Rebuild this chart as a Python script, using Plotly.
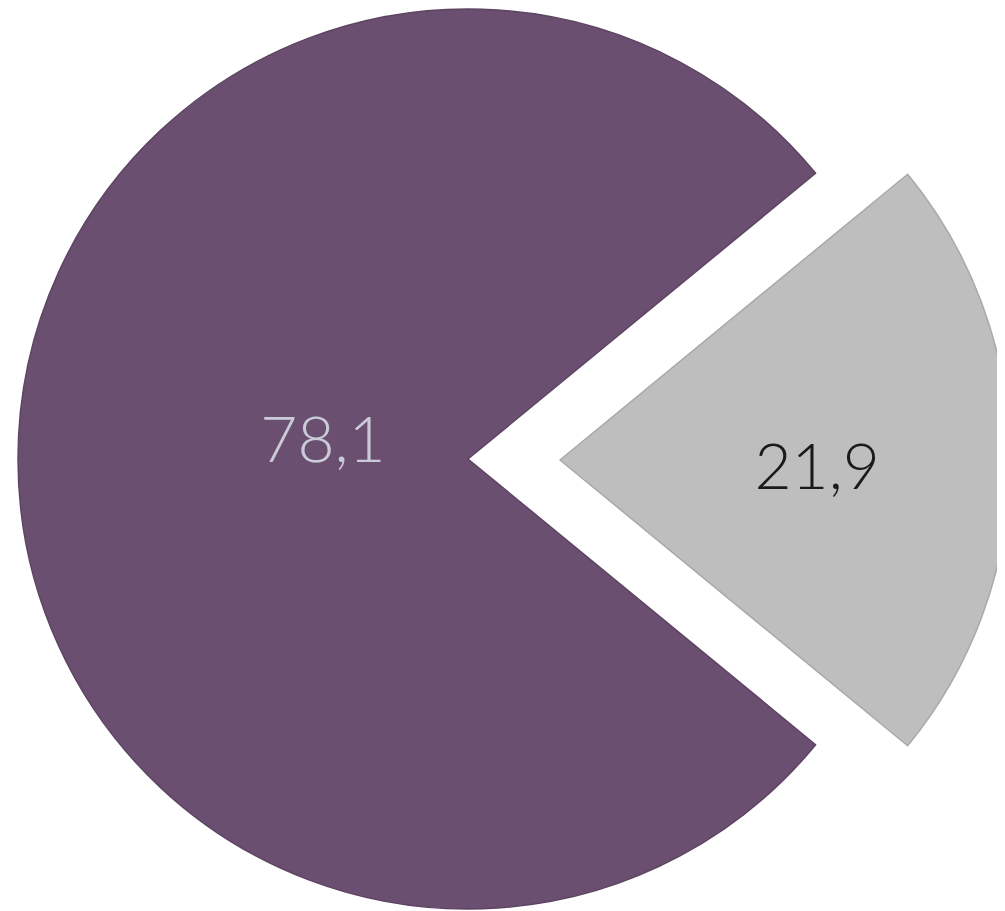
import plotly.graph_objects as go

labels = ["A", "B"]
values = [78.1, 21.9]
text_labels = ["78,1", "21,9"]
colors = ["#6B4F70", "#BEBEBE"]
text_colors = ["#C9CBD9", "#1A1A1A"]

W, H = 1005, 911
OFF = 8  # default body margin of the html page


def dom(cx, cy, r):
    """domain for a pie whose circle is at screen centre (cx, cy) with radius r"""
    x0 = (cx - OFF - r) / W
    x1 = (cx - OFF + r) / W
    top = cy - OFF - r
    bot = cy - OFF + r
    return dict(x=[max(0, x0), min(1, x1)], y=[max(0, (H - bot) / H), min(1, (H - top) / H)])


FONT = dict(family="Lato", size=64, weight=300)
CLEAR = "rgba(0,0,0,0)"

fig = go.Figure()

# main (purple) slice
fig.add_trace(go.Pie(
    labels=labels, values=values, sort=False, direction="clockwise",
    rotation=129.42,
    marker=dict(colors=[colors[0], CLEAR],
                line=dict(color=["#5E4463", CLEAR], width=1.5)),
    textinfo="none",
    domain=dom(468, 459, 450),
    showlegend=False, hoverinfo="none",
))

# exploded (grey) slice
fig.add_trace(go.Pie(
    labels=labels, values=values, sort=False, direction="clockwise",
    rotation=129.42,
    marker=dict(colors=[CLEAR, colors[1]],
                line=dict(color=[CLEAR, "#A9A9A9"], width=1.5)),
    textinfo="none",
    domain=dom(560, 460, 450),
    showlegend=False, hoverinfo="none",
))

# label carrier for the big slice (transparent, smaller radius)
fig.add_trace(go.Pie(
    labels=labels, values=values, sort=False, direction="clockwise",
    rotation=129.42,
    marker=dict(colors=[CLEAR, CLEAR], line=dict(width=0)),
    text=[text_labels[0], ""], textinfo="text", textposition="inside",
    insidetextorientation="horizontal",
    textfont=dict(**FONT, color=[text_colors[0], text_colors[0]]),
    domain=dom(468, 437, 290),
    showlegend=False, hoverinfo="none",
))

# label carrier for the exploded slice
fig.add_trace(go.Pie(
    labels=labels, values=values, sort=False, direction="clockwise",
    rotation=129.42,
    marker=dict(colors=[CLEAR, CLEAR], line=dict(width=0)),
    text=["", text_labels[1]], textinfo="text", textposition="inside",
    insidetextorientation="horizontal",
    textfont=dict(**FONT, color=[text_colors[1], text_colors[1]]),
    domain=dom(548, 464, 440),
    showlegend=False, hoverinfo="none",
))

fig.update_layout(
    width=W, height=H,
    margin=dict(l=0, r=0, t=0, b=0),
    paper_bgcolor="white", plot_bgcolor="white",
)

fig.write_html("out.html")
